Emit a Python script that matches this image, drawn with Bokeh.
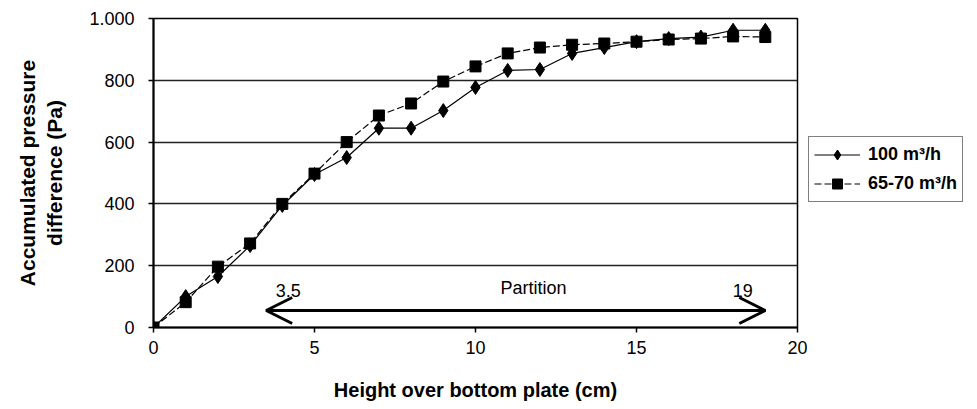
from bokeh.plotting import figure
from bokeh.layouts import row
from bokeh.models import (Range1d, FixedTicker, Arrow, OpenHead, Legend, LegendItem,
                          ColumnDataSource, Label)
from bokeh.embed import file_html
from bokeh.resources import INLINE

# ---- data ----
height_cm = [0, 1, 2, 3, 4, 5, 6, 7, 8, 9, 10, 11, 12, 13, 14, 15, 16, 17, 18, 19]
dp_100 = [0, 100, 165, 265, 395, 495, 550, 645, 645, 702, 777, 832, 835, 887, 906, 925, 935, 940, 962, 962]
dp_65_70 = [0, 82, 197, 272, 400, 498, 600, 686, 725, 796, 845, 887, 906, 915, 919, 925, 932, 935, 942, 940]
series_names = ["100 m\u00b3/h", "65-70 m\u00b3/h"]
x_ticks = [0, 5, 10, 15, 20]
y_ticks = [0, 200, 400, 600, 800, 1000]
y_tick_labels = {1000: "1.000"}
partition_start = 3.5
partition_end = 19
partition_labels = ["3.5", "Partition", "19"]

FONT = "Liberation Sans"

p = figure(output_backend="svg", toolbar_location=None,
           x_range=Range1d(0, 20), y_range=Range1d(0, 1000),
           frame_width=644, frame_height=309,
           min_border_left=153, min_border_right=10, min_border_top=18, min_border_bottom=82)
p.background_fill_color = "white"
p.border_fill_color = "white"
p.outline_line_color = "black"
p.outline_line_width = 1.5

p.xaxis.ticker = FixedTicker(ticks=x_ticks)
p.yaxis.ticker = FixedTicker(ticks=y_ticks)
p.yaxis.major_label_overrides = y_tick_labels
for ax in (p.xaxis, p.yaxis):
    ax.axis_line_color = "black"
    ax.axis_line_width = 2
    ax.major_tick_line_color = "black"
    ax.major_tick_line_width = 1.5
    ax.major_tick_out = 5
    ax.major_tick_in = 0
    ax.minor_tick_line_color = None
    ax.major_label_text_font = FONT
    ax.major_label_text_font_size = "18px"
    ax.major_label_text_color = "black"
    ax.axis_label_text_font = FONT
    ax.axis_label_text_font_style = "bold"
    ax.axis_label_text_color = "black"
p.xaxis.axis_label_text_font_size = "20px"
p.yaxis.axis_label_text_font_size = "21px"
p.xaxis.major_label_standoff = 8
p.yaxis.major_label_standoff = 14
p.xaxis.axis_label = "Height over bottom plate (cm)"
p.xaxis.axis_label_standoff = 22
p.yaxis.axis_label = "Accumulated pressure\ndifference (Pa)"
p.yaxis.axis_label_standoff = 20

p.xgrid.grid_line_color = None
p.ygrid.grid_line_color = "#222222"
p.ygrid.grid_line_width = 1.5

src = ColumnDataSource(dict(x=height_cm, a=dp_100, b=dp_65_70))

LINE_W = 1.2
DASH = "7 3"
p.line("x", "a", source=src, line_color="black", line_width=LINE_W)
p.scatter("x", "a", source=src, marker="diamond", size=14, fill_color="black", line_color="black")
p.line("x", "b", source=src, line_color="black", line_width=LINE_W, line_dash=DASH)
p.scatter("x", "b", source=src, marker="square", size=11, fill_color="black", line_color="black")

# partition arrow
arrow_y = 55
p.add_layout(Arrow(x_start=partition_start, x_end=partition_end, y_start=arrow_y, y_end=arrow_y,
                   line_width=3, line_color="black",
                   start=OpenHead(size=26, line_width=3, line_color="black"),
                   end=OpenHead(size=26, line_width=3, line_color="black")))
p.add_layout(Label(x=3.8, y=100, text=partition_labels[0], text_font=FONT, text_font_size="18px",
                   text_align="left", text_color="black"))
p.add_layout(Label(x=11.8, y=95, text=partition_labels[1], text_font=FONT, text_font_size="18px",
                   text_align="center", text_color="black"))
p.add_layout(Label(x=18.3, y=100, text=partition_labels[2], text_font=FONT, text_font_size="18px",
                   text_align="center", text_color="black"))

# ---- legend panel (separate figure so it is not clipped by the plot frame) ----
# it shares the data source; its view range lies away from the data so only the legend shows
lg = figure(width=170, height=409, output_backend="svg", toolbar_location=None,
            x_range=Range1d(-200, -100), y_range=Range1d(-2000, -1000),
            x_axis_location=None, y_axis_location=None,
            min_border=0)
lg.outline_line_color = None
lg.xgrid.grid_line_color = None
lg.ygrid.grid_line_color = None
lg.background_fill_color = "white"
lg.border_fill_color = "white"
r1l = lg.line("x", "a", source=src, line_color="black", line_width=LINE_W)
r1m = lg.scatter("x", "a", source=src, marker="diamond", size=14, fill_color="black", line_color="black")
r2l = lg.line("x", "b", source=src, line_color="black", line_width=LINE_W, line_dash=DASH)
r2m = lg.scatter("x", "b", source=src, marker="square", size=11, fill_color="black", line_color="black")

legend = Legend(items=[LegendItem(label=series_names[0], renderers=[r1l, r1m]),
                       LegendItem(label=series_names[1], renderers=[r2l, r2m])],
                location=(1, 125))
legend.label_text_font = FONT
legend.label_text_font_size = "18px"
legend.label_text_font_style = "bold"
legend.label_text_color = "black"
legend.border_line_color = "black"
legend.border_line_width = 1.5
legend.glyph_width = 46
legend.glyph_height = 25
legend.spacing = 4
legend.padding = 5
legend.margin = 0
legend.label_standoff = 8
lg.add_layout(legend)

layout = row(p, lg)
open("out.html", "w").write(file_html(layout, INLINE))
